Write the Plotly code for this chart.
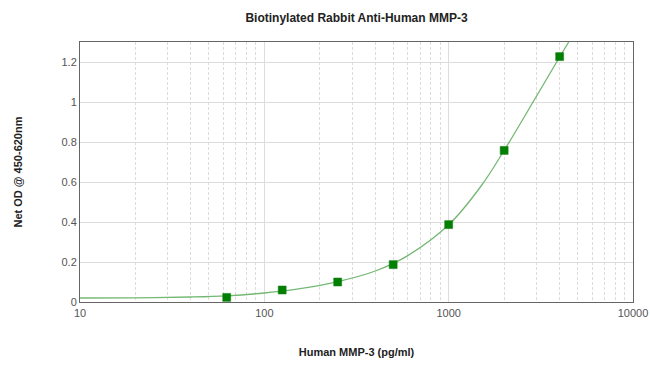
import plotly.graph_objects as go

# Standard concentrations (pg/ml) and measured OD
conc = [62.5, 125, 250, 500, 1000, 2000, 4000]
od = [0.023, 0.060, 0.100, 0.187, 0.387, 0.758, 1.227]

# Fitted curve
curve_x = [10, 20, 40, 62.5, 100, 150, 250, 400, 600, 1000, 1500, 2000, 3000, 4000, 4480]
curve_y = [0.020, 0.021, 0.025, 0.031, 0.045, 0.064, 0.102, 0.155, 0.232, 0.386, 0.580, 0.758, 1.030, 1.225, 1.300]

x_ticks = [10, 100, 1000, 10000]
x_tick_labels = ["10", "100", "1000", "10000"]
y_ticks = [0, 0.2, 0.4, 0.6, 0.8, 1.0, 1.2]
y_tick_labels = ["0", "0.2", "0.4", "0.6", "0.8", "1", "1.2"]

FONT = "Liberation Sans, Arial, sans-serif"

fig = go.Figure()
fig.add_trace(go.Scatter(
    x=curve_x, y=curve_y, mode="lines",
    line=dict(color="#74b874", width=1.3, shape="spline"),
    hoverinfo="skip", showlegend=False, cliponaxis=True,
))
fig.add_trace(go.Scatter(
    x=conc, y=od, mode="markers",
    marker=dict(symbol="square", size=8, color="#008000",
                line=dict(color="#1a7a1a", width=0.5)),
    showlegend=False,
))

fig.update_layout(
    width=650, height=382,
    margin=dict(l=80, r=17, t=42, b=80, autoexpand=False),
    paper_bgcolor="white", plot_bgcolor="white",
    title=dict(text="<b>Biotinylated Rabbit Anti-Human MMP-3</b>",
               x=(80 + 633) / 2 / 650, xanchor="center", y=1 - 18 / 382, yanchor="middle",
               font=dict(family=FONT, size=12, color="#222")),
    font=dict(family=FONT, size=11, color="#555"),
)
fig.update_xaxes(
    type="log", range=[1, 4], automargin=False,
    tickmode="array", tickvals=x_ticks, ticktext=x_tick_labels,
    showgrid=True, gridcolor="#dddddd", gridwidth=1,
    minor=dict(dtick="D1", showgrid=True, gridcolor="#dcdcdc",
               griddash="3px,2px", gridwidth=1, ticks=""),
    showline=True, linecolor="#666", linewidth=1, mirror=True,
    ticks="", ticklabelstandoff=1,
    tickfont=dict(size=11, color="#555"),
    title=dict(text="<b>Human MMP-3 (pg/ml)</b>", standoff=30,
               font=dict(family=FONT, size=11, color="#222")),
    zeroline=False,
)
fig.update_yaxes(
    range=[0, 1.3], automargin=False,
    tickmode="array", tickvals=y_ticks, ticktext=y_tick_labels,
    showgrid=True, gridcolor="#dddddd", gridwidth=1,
    showline=True, linecolor="#666", linewidth=1, mirror=True,
    ticks="", zeroline=False,
    tickfont=dict(size=11, color="#555"),
    title=dict(text="<b>Net OD @ 450-620nm</b>", standoff=36,
               font=dict(family=FONT, size=11, color="#222")),
)

fig.write_html(
    "out.html",
    config={"displayModeBar": False},
    post_script="document.body.style.margin='0px';document.body.style.overflow='hidden';",
)
